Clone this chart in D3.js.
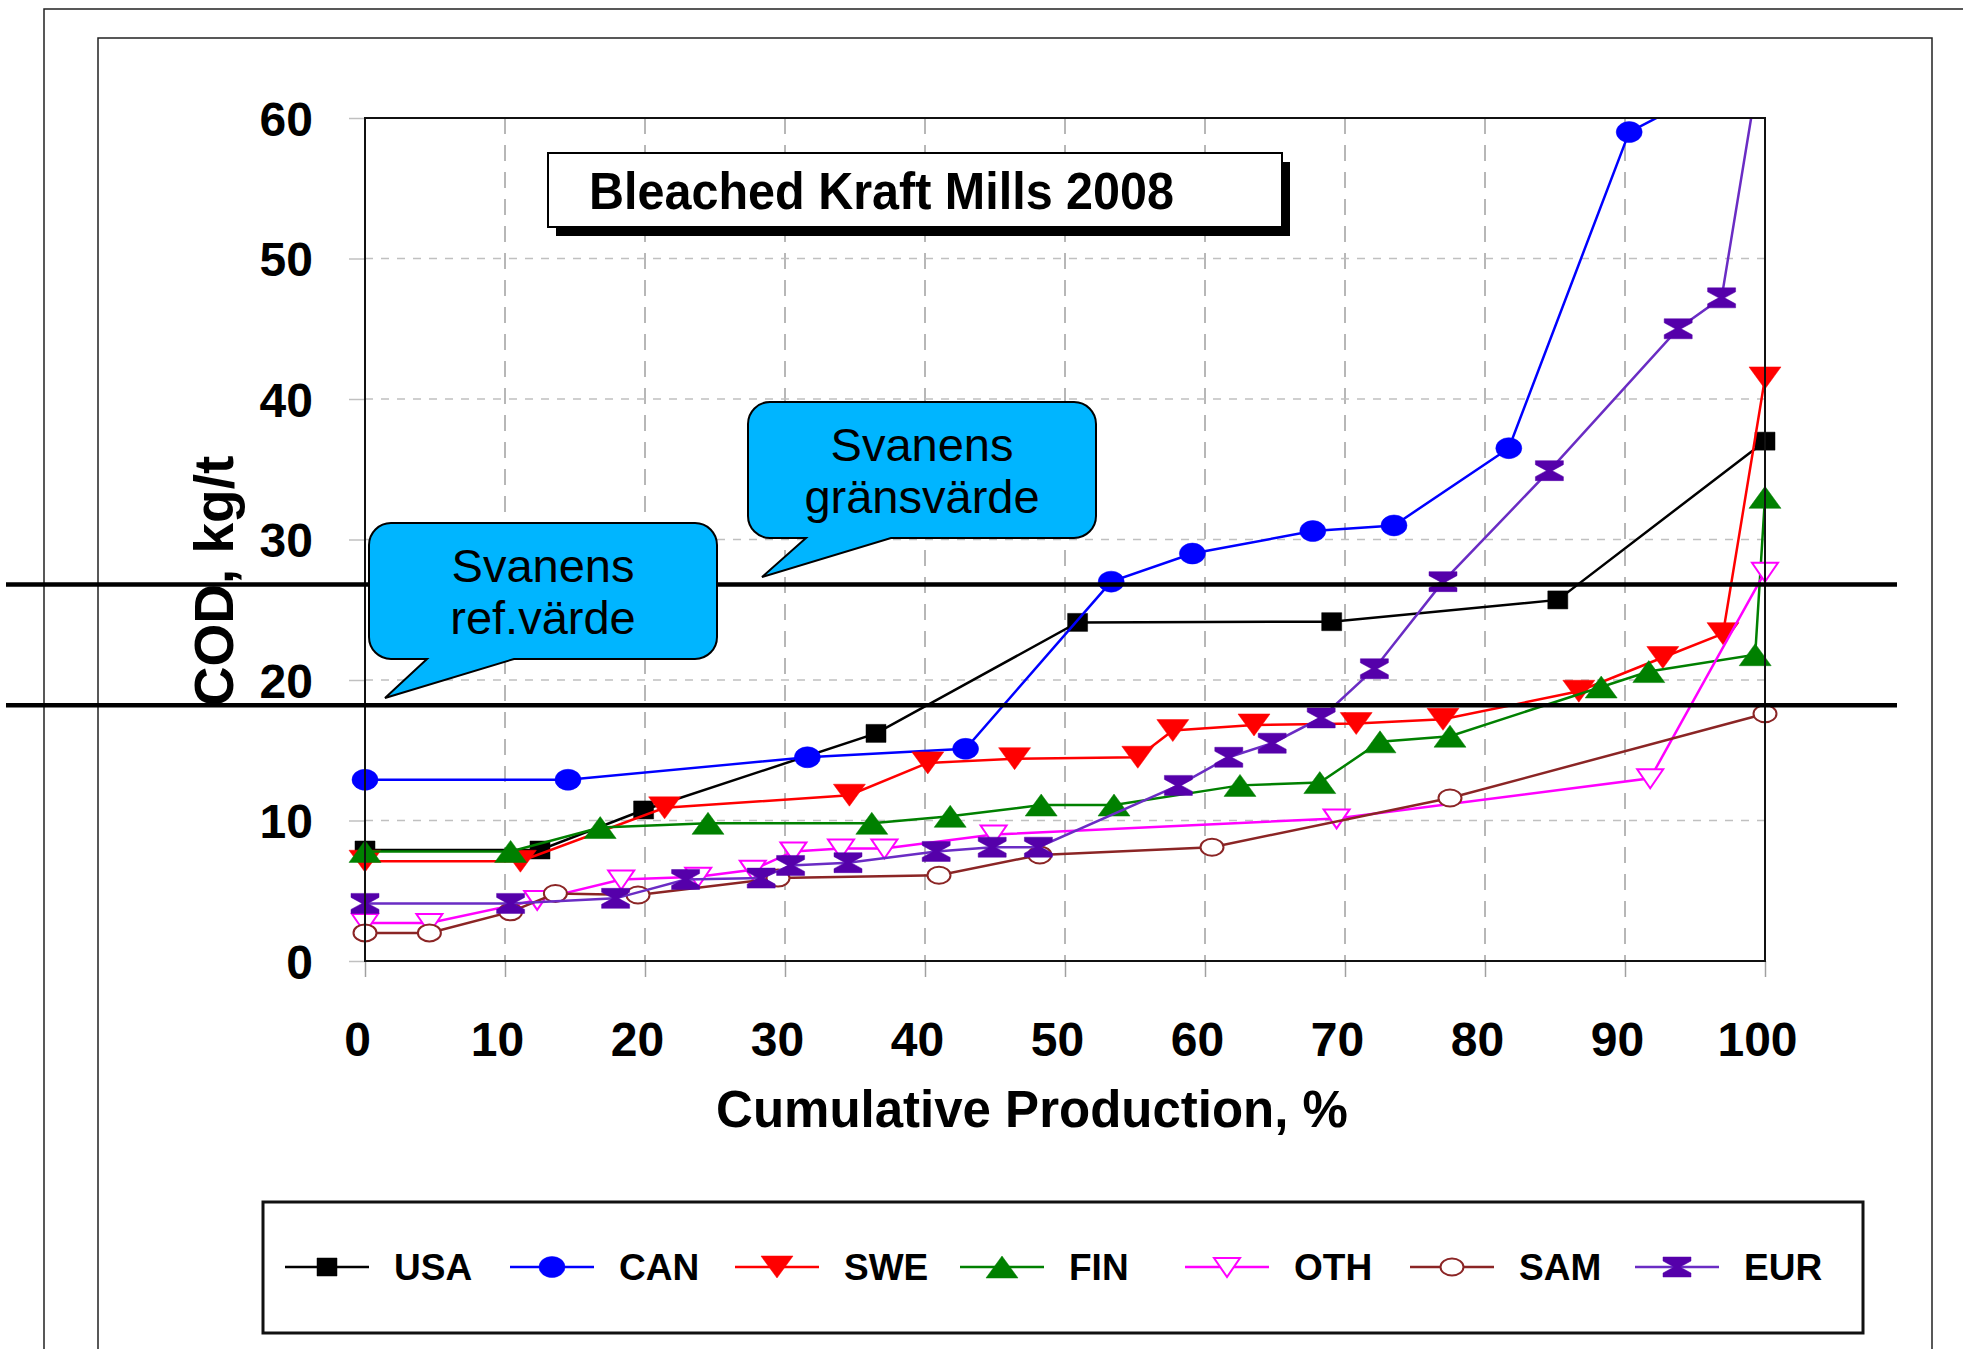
<!DOCTYPE html>
<html>
<head>
<meta charset="utf-8">
<script src="https://cdn.jsdelivr.net/npm/d3@7"></script>
<style>
  body { margin: 0; background: #fff; }
  svg { display: block; }
</style>
</head>
<body>
<div id="chart"></div>
<script>
// values: [cumulative production %, COD kg/t]
var usa = [[0, 7.9], [12.5, 7.9], [19.9, 10.75], [36.5, 16.2], [50.9, 24.1], [69.05, 24.15], [85.2, 25.7], [100, 37.0]];
var can = [[0, 12.9], [14.5, 12.9], [31.6, 14.5], [42.9, 15.1], [53.3, 27.0], [59.1, 29.0], [67.7, 30.6], [73.5, 31.0], [81.7, 36.5], [90.3, 59.0], [100, 64]];
var swe = [[0, 7.1], [11.1, 7.1], [21.4, 10.9], [34.6, 11.8], [40.2, 14.1], [46.4, 14.4], [55.2, 14.5], [57.7, 16.4], [63.5, 16.8], [70.8, 16.9], [77.0, 17.2], [86.7, 19.2], [92.7, 21.6], [97.0, 23.3], [100, 41.5]];
var fin = [[0, 7.8], [10.4, 7.8], [16.8, 9.5], [24.5, 9.8], [36.2, 9.8], [41.8, 10.3], [48.3, 11.1], [53.5, 11.1], [62.5, 12.5], [68.2, 12.7], [72.5, 15.6], [77.5, 16.0], [88.3, 19.5], [91.7, 20.6], [99.3, 21.8], [100, 33.0]];
var oth = [[0, 2.7], [4.6, 2.7], [12.3, 4.35], [18.3, 5.8], [23.8, 6.0], [27.7, 6.5], [30.6, 7.8], [34.0, 8.0], [37.1, 8.0], [44.9, 9.0], [69.4, 10.15], [91.8, 13.0], [100, 27.7]];
var sam = [[0, 2.0], [4.6, 2.0], [10.4, 3.5], [13.6, 4.8], [19.5, 4.7], [29.5, 5.9], [41.0, 6.1], [48.2, 7.55], [60.5, 8.1], [77.5, 11.6], [100, 17.6]];
var eur = [[0, 4.1], [10.4, 4.1], [17.9, 4.46], [22.9, 5.8], [28.3, 5.9], [30.4, 6.8], [34.5, 7.0], [40.8, 7.8], [44.8, 8.1], [48.1, 8.1], [58.1, 12.5], [61.7, 14.5], [64.8, 15.5], [68.3, 17.3], [72.1, 20.8], [77.0, 27.0], [84.6, 34.9], [93.8, 45.0], [96.9, 47.2], [100, 66]];

var seriesNames = ["USA", "CAN", "SWE", "FIN", "OTH", "SAM", "EUR"];
var seriesData = [usa, can, swe, fin, oth, sam, eur];

var xTicks = [0, 10, 20, 30, 40, 50, 60, 70, 80, 90, 100];
var yTicks = [0, 10, 20, 30, 40, 50, 60];

// Svanens gränsvärde / ref.värde
var refLines = [26.8, 18.2];

var width = 1963, height = 1349;
var plotLeft = 365, plotRight = 1765, plotTop = 118, plotBottom = 961;
var font = "'Liberation Sans', Arial, sans-serif";

var styles = {
  USA: { color: "#000000", line: "#000000", shape: "square", fill: true },
  CAN: { color: "#0000ff", line: "#0000ff", shape: "circle", fill: true },
  SWE: { color: "#ff0000", line: "#ff0000", shape: "triDown", fill: true },
  FIN: { color: "#008000", line: "#008000", shape: "triUp", fill: true },
  OTH: { color: "#ff00ff", line: "#ff00ff", shape: "openTriDown", fill: false },
  SAM: { color: "#8b2525", line: "#8b2525", shape: "openCircle", fill: false },
  EUR: { color: "#5500aa", line: "#6a2cc4", shape: "hourglass", fill: true }
};

function markerPath(shape) {
  switch (shape) {
    case "square": return "M-10,-9H10V9H-10Z";
    case "circle": return "M-13,0A13,10.5 0 1,0 13,0A13,10.5 0 1,0 -13,0Z";
    case "triUp": return "M0,-11L16,11L-16,11Z";
    case "triDown": return "M-16,-11L16,-11L0,11Z";
    case "openTriDown": return "M-13,-9L13,-9L0,10Z";
    case "openCircle": return "M-11.5,0A11.5,8.5 0 1,0 11.5,0A11.5,8.5 0 1,0 -11.5,0Z";
    case "hourglass": return "M-14,-10H14V-6L3,0L14,6V10H-14V6L-3,0L-14,-6Z";
  }
}

var x = d3.scaleLinear().domain([0, 100]).range([plotLeft, plotRight]);
var y = d3.scaleLinear().domain([0, 60]).range([plotBottom, plotTop]);

var svg = d3.select("#chart").append("svg")
  .attr("width", width)
  .attr("height", height);

svg.append("rect").attr("width", width).attr("height", height).attr("fill", "#fff");

// slide frame
svg.append("path")
  .attr("d", "M44," + height + "V9H" + width)
  .attr("fill", "none").attr("stroke", "#222").attr("stroke-width", 1.5);
svg.append("path")
  .attr("d", "M98," + height + "V38H1932V" + height)
  .attr("fill", "none").attr("stroke", "#222").attr("stroke-width", 1.5);

// grid
svg.append("g").selectAll("line")
  .data(xTicks.filter(function(d) { return d > 0 && d < 100; }))
  .enter().append("line")
    .attr("x1", x).attr("x2", x)
    .attr("y1", plotTop).attr("y2", plotBottom)
    .attr("stroke", "#a0a0a0").attr("stroke-width", 1.5)
    .attr("stroke-dasharray", "16,11");

svg.append("g").selectAll("line")
  .data(yTicks.filter(function(d) { return d > 0 && d < 60; }))
  .enter().append("line")
    .attr("x1", plotLeft).attr("x2", plotRight)
    .attr("y1", y).attr("y2", y)
    .attr("stroke", "#c0c0c0").attr("stroke-width", 1.5)
    .attr("stroke-dasharray", "8,8");

// axes
var gx = svg.append("g")
  .attr("transform", "translate(0," + plotBottom + ")")
  .call(d3.axisBottom(x).tickValues(xTicks).tickSize(16));
gx.select(".domain").remove();
gx.selectAll("line").attr("stroke", "#a0a0a0").attr("stroke-width", 1.5);
gx.attr("font-family", font).attr("font-size", 48).attr("font-weight", "bold");
gx.selectAll("text").attr("y", 95).attr("dy", null).attr("dx", -8).attr("fill", "#000");

var gy = svg.append("g")
  .attr("transform", "translate(" + plotLeft + ",0)")
  .call(d3.axisLeft(y).tickValues(yTicks).tickSize(16));
gy.select(".domain").remove();
gy.selectAll("line").attr("stroke", "#c0c0c0").attr("stroke-width", 1.5);
gy.attr("font-family", font).attr("font-size", 48).attr("font-weight", "bold");
gy.selectAll("text").attr("x", -52).attr("dy", "0.36em").attr("fill", "#000");

// axis titles
svg.append("text")
  .attr("x", 1032).attr("y", 1127)
  .attr("text-anchor", "middle")
  .attr("font-family", font).attr("font-size", 51).attr("font-weight", "bold")
  .text("Cumulative Production, %");

svg.append("text")
  .attr("transform", "translate(233,581) rotate(-90)")
  .attr("text-anchor", "middle")
  .attr("font-family", font).attr("font-size", 55).attr("font-weight", "bold")
  .text("COD, kg/t");

// series
svg.append("clipPath").attr("id", "plotclip")
  .append("rect").attr("x", plotLeft - 20).attr("y", plotTop)
  .attr("width", plotRight - plotLeft + 40).attr("height", plotBottom - plotTop + 20);

var line = d3.line()
  .x(function(d) { return x(d[0]); })
  .y(function(d) { return y(d[1]); });

var series = svg.append("g").attr("clip-path", "url(#plotclip)")
  .selectAll("g")
  .data(seriesNames)
  .enter().append("g");

series.append("path")
  .attr("d", function(d, i) { return line(seriesData[i]); })
  .attr("fill", "none")
  .attr("stroke", function(d) { return styles[d].line; })
  .attr("stroke-width", 2.5);

series.selectAll(".mark")
  .data(function(d, i) { return seriesData[i].map(function(p) { return { name: d, p: p }; }); })
  .enter().append("path")
    .attr("class", "mark")
    .attr("transform", function(d) { return "translate(" + x(d.p[0]) + "," + y(d.p[1]) + ")"; })
    .attr("d", function(d) { return markerPath(styles[d.name].shape); })
    .attr("fill", function(d) { return styles[d.name].fill ? styles[d.name].color : "#fff"; })
    .attr("stroke", function(d) { return styles[d.name].color; })
    .attr("stroke-width", function(d) { return styles[d.name].fill ? 0.5 : 2; });

// plot frame
svg.append("rect")
  .attr("x", plotLeft).attr("y", plotTop)
  .attr("width", plotRight - plotLeft).attr("height", plotBottom - plotTop)
  .attr("fill", "none").attr("stroke", "#111").attr("stroke-width", 2);

// reference lines
svg.append("g").selectAll("line")
  .data(refLines)
  .enter().append("line")
    .attr("x1", 6).attr("x2", 1897)
    .attr("y1", y).attr("y2", y)
    .attr("stroke", "#000").attr("stroke-width", 4.5);

// callouts
function calloutPath(c) {
  var r = 22;
  return "M" + (c.x0 + r) + "," + c.y0 +
    "H" + (c.x1 - r) + "A" + r + "," + r + " 0 0 1 " + c.x1 + "," + (c.y0 + r) +
    "V" + (c.y1 - r) + "A" + r + "," + r + " 0 0 1 " + (c.x1 - r) + "," + c.y1 +
    "H" + c.b1 + "L" + c.tx + "," + c.ty + "L" + c.b0 + "," + c.y1 +
    "H" + (c.x0 + r) + "A" + r + "," + r + " 0 0 1 " + c.x0 + "," + (c.y1 - r) +
    "V" + (c.y0 + r) + "A" + r + "," + r + " 0 0 1 " + (c.x0 + r) + "," + c.y0 + "Z";
}

var callouts = [
  { lines: ["Svanens", "gränsvärde"], x0: 748, y0: 402, x1: 1096, y1: 538, b0: 806, b1: 891, tx: 762, ty: 577 },
  { lines: ["Svanens", "ref.värde"], x0: 369, y0: 523, x1: 717, y1: 659, b0: 427, b1: 514, tx: 385, ty: 698 }
];

var co = svg.append("g").selectAll("g").data(callouts).enter().append("g");
co.append("path")
  .attr("d", calloutPath)
  .attr("fill", "#00b5ff").attr("stroke", "#000").attr("stroke-width", 2);
co.each(function(c) {
  var g = d3.select(this);
  c.lines.forEach(function(t, k) {
    g.append("text")
      .attr("x", (c.x0 + c.x1) / 2)
      .attr("y", c.y0 + 59 + k * 52)
      .attr("text-anchor", "middle")
      .attr("font-family", font).attr("font-size", 47)
      .text(t);
  });
});

// title box
svg.append("rect")
  .attr("x", 556).attr("y", 162).attr("width", 734).attr("height", 74)
  .attr("fill", "#000");
svg.append("rect")
  .attr("x", 548).attr("y", 153).attr("width", 734).attr("height", 74)
  .attr("fill", "#fff").attr("stroke", "#000").attr("stroke-width", 2);
svg.append("text")
  .attr("x", 589).attr("y", 209)
  .attr("font-family", font).attr("font-size", 52).attr("font-weight", "bold")
  .attr("textLength", 585).attr("lengthAdjust", "spacingAndGlyphs")
  .text("Bleached Kraft Mills 2008");

// legend
var legendBox = svg.append("g");
legendBox.append("rect")
  .attr("x", 263).attr("y", 1202).attr("width", 1600).attr("height", 131)
  .attr("fill", "#fff").attr("stroke", "#111").attr("stroke-width", 3);

var legend = legendBox.selectAll(".item")
  .data(seriesNames)
  .enter().append("g")
    .attr("class", "item")
    .attr("transform", function(d, i) { return "translate(" + (285 + i * 225) + ",1267)"; });

legend.append("line")
  .attr("x1", 0).attr("x2", 84)
  .attr("stroke", function(d) { return styles[d].line; })
  .attr("stroke-width", 2.5);

legend.append("path")
  .attr("transform", "translate(42,0)")
  .attr("d", function(d) { return markerPath(styles[d].shape); })
  .attr("fill", function(d) { return styles[d].fill ? styles[d].color : "#fff"; })
  .attr("stroke", function(d) { return styles[d].color; })
  .attr("stroke-width", function(d) { return styles[d].fill ? 0.5 : 2; });

legend.append("text")
  .attr("x", 109).attr("y", 13)
  .attr("font-family", font).attr("font-size", 37).attr("font-weight", "bold")
  .text(function(d) { return d; });
</script>
</body>
</html>
